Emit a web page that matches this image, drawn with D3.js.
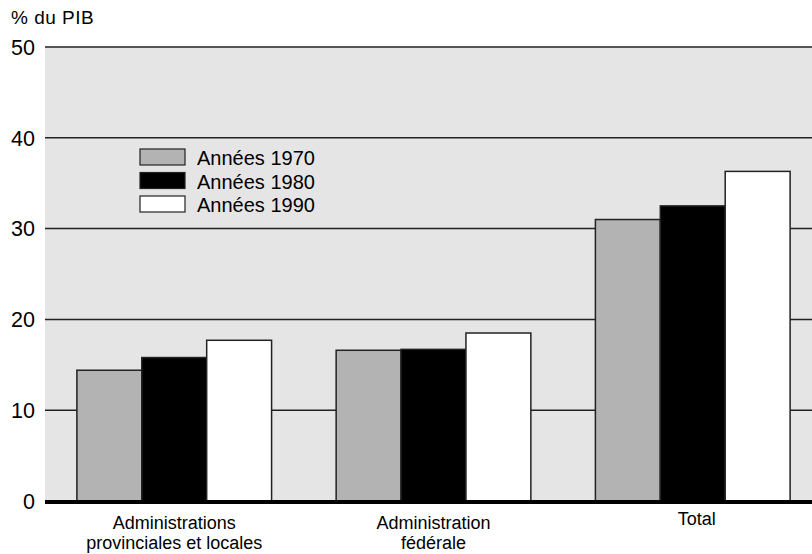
<!DOCTYPE html>
<html>
<head>
<meta charset="utf-8">
<script src="https://cdn.jsdelivr.net/npm/d3@7"></script>
<style>
  body { margin: 0; background: #fff; }
  text { font-family: "Liberation Sans", Arial, sans-serif; fill: #000; }
</style>
</head>
<body>
<script>
/* DATA */
var categories = [['Administrations', 'provinciales et locales'], ['Administration', 'fédérale'], ['Total']];
var seriesNames = ['Années 1970', 'Années 1980', 'Années 1990'];
var values1970 = [14.4, 16.6, 31.0];
var values1980 = [15.8, 16.7, 32.5];
var values1990 = [17.7, 18.5, 36.3];
var yTicks = [0, 10, 20, 30, 40, 50];

var seriesColors = ['#b3b3b3', '#000000', '#ffffff'];
var chartWidth = 812, chartHeight = 554;
var plotLeft = 45, plotTop = 47, plotBottom = 501;

var series = [values1970, values1980, values1990];

const svg = d3.select('body').append('svg')
    .attr('width', chartWidth)
    .attr('height', chartHeight);

const y = d3.scaleLinear().domain([0, 50]).range([plotBottom, plotTop]);
const x0 = d3.scaleBand()
    .domain(d3.range(categories.length))
    .range([plotLeft, 822])
    .paddingInner(0.249)
    .paddingOuter(0.123);
const x1 = d3.scaleBand()
    .domain(d3.range(series.length))
    .range([0, x0.bandwidth()]);

// plot background
svg.append('rect')
    .attr('x', plotLeft).attr('y', y(50))
    .attr('width', chartWidth - plotLeft).attr('height', y(0) - y(50))
    .attr('fill', '#e5e5e5');

// gridlines
svg.append('g').selectAll('line')
    .data(yTicks.filter(d => d > 0))
    .join('line')
    .attr('x1', plotLeft).attr('x2', chartWidth)
    .attr('y1', d => y(d)).attr('y2', d => y(d))
    .attr('stroke', '#222').attr('stroke-width', 1.5);

// y tick labels
svg.append('g').selectAll('text')
    .data(yTicks)
    .join('text')
    .attr('x', 35).attr('y', d => y(d))
    .attr('dy', '0.36em')
    .attr('text-anchor', 'end')
    .style('font-size', '21.5px')
    .text(d => d);

svg.append('text')
    .attr('x', 11).attr('y', 24)
    .style('font-size', '19px')
    .style('letter-spacing', '0.5px')
    .text('% du PIB');

// bars
const groups = svg.append('g').selectAll('g')
    .data(categories.map((c, i) => i))
    .join('g')
    .attr('transform', i => `translate(${x0(i)},0)`);

groups.selectAll('rect')
    .data(i => series.map((s, j) => ({j: j, v: s[i]})))
    .join('rect')
    .attr('x', d => x1(d.j))
    .attr('y', d => y(d.v))
    .attr('width', x1.bandwidth())
    .attr('height', d => y(0) - y(d.v))
    .attr('fill', d => seriesColors[d.j])
    .attr('stroke', '#222')
    .attr('stroke-width', 1.5);

// zero line
svg.append('line')
    .attr('x1', plotLeft).attr('x2', chartWidth)
    .attr('y1', y(0) + 1).attr('y2', y(0) + 1)
    .attr('stroke', '#000').attr('stroke-width', 4);

// category labels
const catLabels = svg.append('g').selectAll('text')
    .data(categories)
    .join('text')
    .attr('x', (d, i) => x0(i) + x0.bandwidth() / 2 + (d.length === 1 ? 4 : 0))
    .attr('y', d => d.length === 1 ? 525 : 529)
    .attr('text-anchor', 'middle')
    .style('font-size', '18px');
catLabels.selectAll('tspan')
    .data(d => d)
    .join('tspan')
    .attr('x', function() { return d3.select(this.parentNode).attr('x'); })
    .attr('dy', (d, k) => k === 0 ? 0 : 19.5)
    .text(d => d);

// legend
const legend = svg.append('g').attr('transform', 'translate(140,149)');
const items = legend.selectAll('g')
    .data(seriesNames)
    .join('g')
    .attr('transform', (d, i) => `translate(0,${i * 23.5})`);
items.append('rect')
    .attr('width', 45).attr('height', 16)
    .attr('fill', (d, i) => seriesColors[i])
    .attr('stroke', '#222').attr('stroke-width', 1.2);
items.append('text')
    .attr('x', 57).attr('y', 16)
    .style('font-size', '20px')
    .text(d => d);
</script>
</body>
</html>
